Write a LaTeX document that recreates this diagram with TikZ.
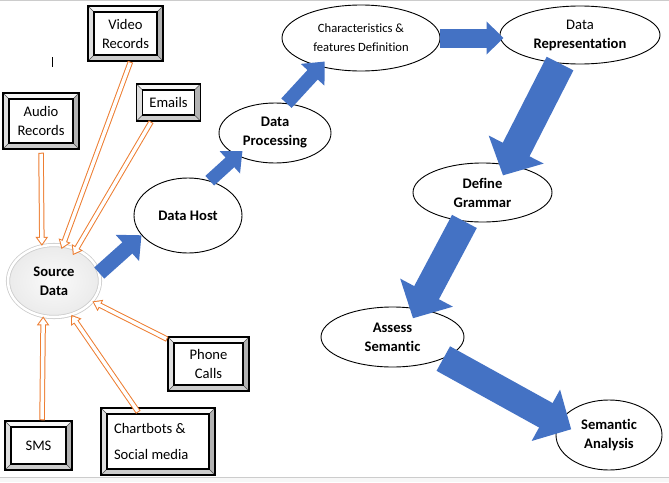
\documentclass[tikz,border=0pt]{standalone}
\usepackage{fontspec}
\setmainfont{Carlito}[Ligatures=NoCommon]
\usetikzlibrary{arrows.meta, shapes.geometric, shadows}

\definecolor{flowblue}{HTML}{4472C4}
\definecolor{feedorange}{HTML}{ED7D31}

\newcommand{\diagfont}{\fontsize{14.6}{19}\selectfont}
\newcommand{\charfont}{\fontsize{12.6}{19}\selectfont}
\newcommand{\bev}{6pt}

\tikzset{
  bevelbox/.style 2 args={draw=black, line width=1.5pt, fill=white,
    minimum width=#1, minimum height=#2, inner sep=0pt, align=center, font=\diagfont,
    path picture={
      \coordinate (pNW) at (path picture bounding box.north west);
      \coordinate (pNE) at (path picture bounding box.north east);
      \coordinate (pSW) at (path picture bounding box.south west);
      \coordinate (pSE) at (path picture bounding box.south east);
      \coordinate (iNW) at ([xshift=\bev,yshift=-\bev]pNW);
      \coordinate (iNE) at ([xshift=-\bev,yshift=-\bev]pNE);
      \coordinate (iSW) at ([xshift=\bev,yshift=\bev]pSW);
      \coordinate (iSE) at ([xshift=-\bev,yshift=\bev]pSE);
      \fill[gray!6] (pNW) -- (pNE) -- (iNE) -- (iNW) -- cycle;
      \fill[gray!25] (pNW) -- (iNW) -- (iSW) -- (pSW) -- cycle;
      \fill[gray!60] (pNE) -- (pSE) -- (iSE) -- (iNE) -- cycle;
      \fill[gray!40] (pSW) -- (pSE) -- (iSE) -- (iSW) -- cycle;
      \draw[gray!60!black, line width=0.4pt] (pNW) -- (iNW) (pNE) -- (iNE) (pSW) -- (iSW) (pSE) -- (iSE);
      \draw[black, line width=1.2pt, fill=white] (iNW) rectangle (iSE);
    }},
  stage/.style={ellipse, draw=black, line width=0.9pt, fill=white, inner sep=0pt,
    align=center, font=\diagfont\bfseries},
  source/.style={ellipse, minimum width=92, minimum height=72, inner sep=0pt,
    align=center, font=\diagfont\bfseries, draw=gray!40, line width=0.8pt,
    double=white, double distance=2.5pt, inner color=gray!4, outer color=gray!16,
    drop shadow={shadow xshift=0.5pt, shadow yshift=-2pt, opacity=0.25, fill=gray}},
  flow/.style n args={3}{draw=flowblue, line width=#1pt, -{Triangle[width=#2pt, length=#3pt]}},
  feed/.style 2 args={draw=feedorange, line width=5.5pt, shorten <=#1, shorten >=#2,
    -{Triangle[width=12pt, length=9pt]},
    postaction={draw=white, line width=3.5pt, shorten <=#1+1pt, shorten >=#2+1.8pt,
      -{Triangle[width=8.3pt, length=6.2pt]}}}
}

\begin{document}
\begin{tikzpicture}[x=1pt, y=-1pt]
\useasboundingbox (0,0) rectangle (669,482);
\fill[gray!6] (0,478) rectangle (669,482);
\draw[gray!40] (0,477.5) -- (669,477.5);
\draw[gray!40] (0,0.5) -- (669,0.5);
\draw[line width=0.8pt] (52,57) -- (52,67);

% source boxes
\node[bevelbox={75}{55}] (video) at (125.5,33.5) {Video\\Records};
\node[bevelbox={64}{37}] (emails) at (168.5,102.5) {Emails};
\node[bevelbox={76}{56}] (audio) at (41,121) {Audio\\Records};
\node[bevelbox={81}{54}] (phone) at (208.5,364) {Phone\\Calls};
\node[bevelbox={67}{49}] (sms) at (38.5,445.5) {SMS};
\node[bevelbox={114}{67}, align=flush left, text width=88] (chart) at (158,441.5) {Chartbots \&\\[7pt]Social media};

\node[source] (src) at (54,281) {Source\\Data};

% pipeline
\node[stage, minimum width=108, minimum height=75] (host) at (188,215.5) {Data Host};
\node[stage, minimum width=112, minimum height=60] (proc) at (275,133) {Data\\Processing};
\node[stage, minimum width=158, minimum height=66, font=\charfont] (char) at (361,38) {Characteristics \&\\features Definition};
\node[stage, minimum width=160, minimum height=58] (rep) at (580,35) {{\mdseries Data}\\Representation};
\node[stage, minimum width=139, minimum height=59] (gram) at (482.5,192.5) {Define\\Grammar};
\node[stage, minimum width=143, minimum height=60] (assess) at (392.5,337) {Assess\\Semantic};
\node[stage, minimum width=106, minimum height=70] (ana) at (609,435) {Semantic\\Analysis};

\draw[feed={3pt}{0pt}] (audio.south) -- (src.109);
\draw[feed={0pt}{-4pt}] (video.-80) -- (src.76);
\draw[feed={0pt}{-7pt}] (emails.228) -- (src.55);
\draw[feed={0pt}{0pt}] (phone.149) -- (src.332);
\draw[feed={0pt}{0pt}] (sms.82) -- (src.253);
\draw[feed={-6pt}{0pt}] (chart.124) -- (src.297);

\draw[flow={15}{34}{19}] (src.10) -- (host.203);
\draw[flow={13}{29}{17}, shorten >=-7pt] (host.58) -- (proc.211);
\draw[flow={14}{31}{18}, shorten >=-7pt] (proc.69) -- (char.215);
\draw[flow={19}{32}{17}, shorten >=-4pt] (char.east) -- (char.east -| rep.west);
\draw[flow={30}{60}{29}, shorten >=-12pt] (rep.235) -- (gram.47);
\draw[flow={28}{58}{29}, shorten >=-11pt] (gram.238) -- (assess.48);
\draw[flow={28}{57}{29}, shorten >=-14pt] (assess.337) -- (ana.166);
\end{tikzpicture}
\end{document}
